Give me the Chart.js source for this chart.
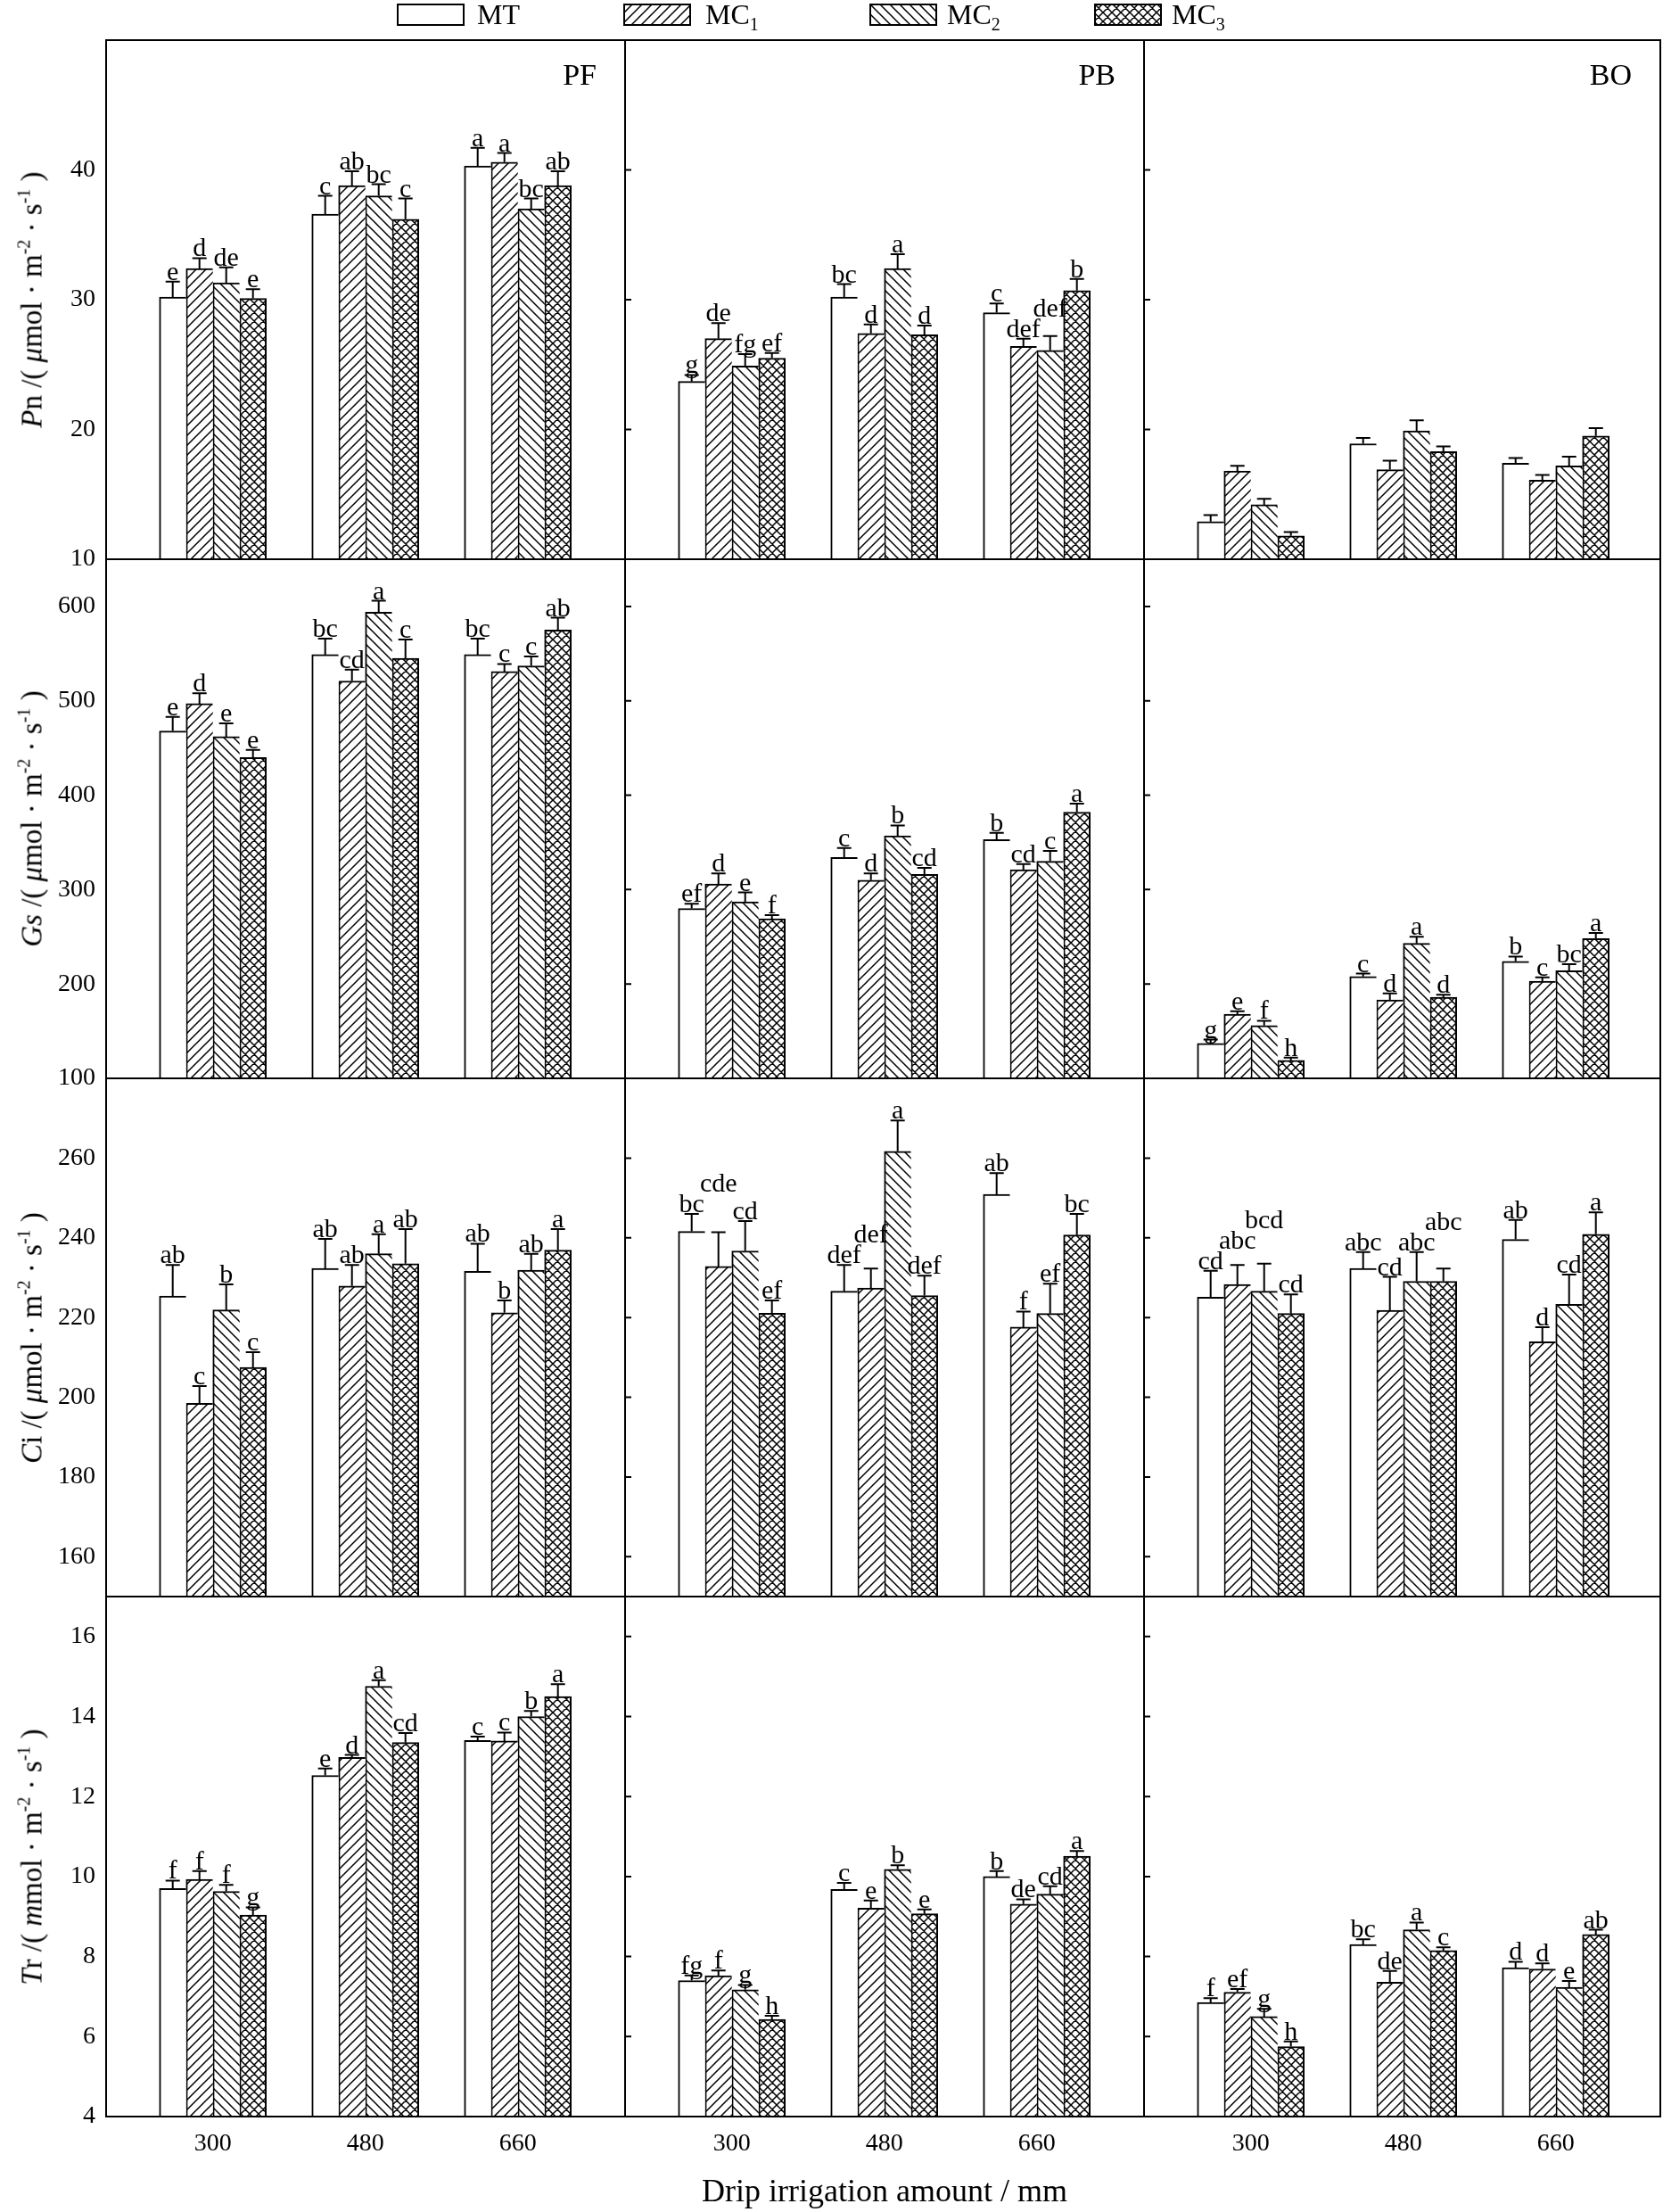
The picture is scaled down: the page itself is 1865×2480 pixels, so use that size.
<!DOCTYPE html>
<html>
<head>
<meta charset="utf-8">
<title>Pn, Gs, Ci, Tr under drip irrigation</title>
<script src="https://cdn.jsdelivr.net/npm/chart.js@4.4.1/dist/chart.umd.min.js"></script>
<style>
  html, body { margin: 0; padding: 0; background: #fff; }
  body { position: relative; width: 1865px; height: 2480px; overflow: hidden;
         font-family: "Liberation Serif", "Times New Roman", serif; color: #000; }
  canvas { position: absolute; }
  .ytitle { position: absolute; left: 36px; white-space: nowrap; font-size: 33px; line-height: 1;
            transform: translate(-50%, -50%) rotate(-90deg); }
  .ytitle sup { font-size: 20px; vertical-align: 13px; line-height: 0; }
  .lg-text { position: absolute; top: 0; font-size: 32px; line-height: 32px; white-space: nowrap; }
  .lg-text sub { font-size: 20px; vertical-align: -7px; line-height: 0; }
</style>
</head>
<body>
<script>
const categories = ["300", "480", "660"];
const seriesNames = ["MT", "MC1", "MC2", "MC3"];
const sites = ["PF", "PB", "BO"];

const pnTicks = [10, 20, 30, 40];
const gsTicks = [100, 200, 300, 400, 500, 600];
const ciTicks = [160, 180, 200, 220, 240, 260];
const trTicks = [4, 6, 8, 10, 12, 14, 16];

// one inner array per series (MT, MC1, MC2, MC3), one value per irrigation amount
const pnPF = [[30.2, 36.6, 40.3], [32.4, 38.8, 40.6], [31.3, 38.0, 37.0], [30.1, 36.2, 38.8]];
const pnPFErr = [[1.2, 1.4, 1.4], [0.8, 1.1, 0.7], [1.2, 0.9, 0.8], [0.7, 1.6, 1.1]];
const pnPFSig = [["e", "c", "a"], ["d", "ab", "a"], ["de", "bc", "bc"], ["e", "c", "ab"]];
const pnPB = [[23.7, 30.2, 29.0], [27.0, 27.4, 26.4], [24.9, 32.4, 26.1], [25.5, 27.3, 30.7]];
const pnPBErr = [[0.5, 1.0, 0.7], [1.2, 0.7, 0.6], [0.9, 1.1, 1.1], [0.4, 0.7, 0.9]];
const pnPBSig = [["g", "bc", "c"], ["de", "d", "def"], ["fg", "a", "def"], ["ef", "d", "b"]];
const pnBO = [[12.9, 18.9, 17.4], [16.8, 16.9, 16.1], [14.2, 19.9, 17.2], [11.8, 18.3, 19.5]];
const pnBOErr = [[0.5, 0.45, 0.4], [0.4, 0.7, 0.4], [0.45, 0.8, 0.7], [0.3, 0.4, 0.6]];
const pnBOSig = null;

const gsPF = [[468, 549, 549], [497, 521, 531], [462, 594, 537], [440, 545, 575]];
const gsPFErr = [[15, 17, 17], [11, 12, 8], [14, 12, 10], [8, 20, 13]];
const gsPFSig = [["e", "bc", "bc"], ["d", "cd", "c"], ["e", "a", "c"], ["e", "c", "ab"]];
const gsPB = [[280, 334, 353], [306, 310, 321], [287, 357, 330], [269, 316, 382]];
const gsPBErr = [[5, 10, 7], [11, 7, 6], [10, 11, 11], [4, 7, 9]];
const gsPBSig = [["ef", "c", "b"], ["d", "d", "cd"], ["e", "b", "c"], ["f", "cd", "a"]];
const gsBO = [[137, 208, 224], [168, 183, 203], [156, 243, 214], [119, 186, 248]];
const gsBOErr = [[4, 3, 5], [3, 7, 4], [5, 7, 7], [3, 2.5, 6]];
const gsBOSig = [["g", "c", "b"], ["e", "d", "c"], ["f", "a", "bc"], ["h", "d", "a"]];

const ciPF = [[225.4, 232.3, 231.6], [198.5, 227.9, 221.2], [221.9, 236.0, 231.9], [207.5, 233.5, 236.9]];
const ciPFErr = [[7.8, 7.4, 6.9], [4.3, 5.3, 3.1], [6.4, 4.9, 4.1], [3.8, 8.7, 5.3]];
const ciPFSig = [["ab", "ab", "ab"], ["c", "ab", "b"], ["b", "a", "ab"], ["c", "ab", "a"]];
const ciPB = [[241.6, 226.6, 250.9], [232.8, 227.4, 217.6], [236.7, 261.7, 221.0], [221.1, 225.5, 240.7]];
const ciPBErr = [[4.4, 6.6, 5.3], [8.6, 4.9, 3.9], [7.5, 7.7, 7.5], [3.2, 5.0, 5.3]];
const ciPBSig = [["bc", "def", "ab"], ["cde", "def", "f"], ["cd", "a", "ef"], ["ef", "def", "bc"]];
const ciBO = [[225.1, 232.3, 239.6], [228.3, 221.8, 213.9], [226.6, 229.1, 223.3], [221.0, 229.1, 240.9]];
const ciBOErr = [[6.6, 4.1, 4.9], [4.9, 8.4, 3.7], [6.9, 7.3, 7.5], [4.8, 3.2, 5.5]];
const ciBOSig = [["cd", "abc", "ab"], ["abc", "cd", "d"], ["bcd", "abc", "cd"], ["cd", "abc", "a"]];

const trPF = [[9.70, 12.53, 13.40], [9.93, 12.98, 13.39], [9.63, 14.76, 14.00], [9.04, 13.35, 14.50]];
const trPFErr = [[0.20, 0.17, 0.10], [0.21, 0.06, 0.21], [0.16, 0.15, 0.14], [0.19, 0.24, 0.31]];
const trPFSig = [["f", "e", "c"], ["f", "d", "c"], ["f", "a", "b"], ["g", "cd", "a"]];
const trPB = [[7.40, 9.68, 10.00], [7.52, 9.21, 9.31], [7.17, 10.18, 9.56], [6.43, 9.07, 10.51]];
const trPBErr = [[0.13, 0.16, 0.14], [0.13, 0.19, 0.12], [0.12, 0.10, 0.20], [0.09, 0.11, 0.13]];
const trPBSig = [["fg", "c", "b"], ["f", "e", "de"], ["g", "b", "cd"], ["h", "e", "a"]];
const trBO = [[6.85, 8.30, 7.72], [7.11, 7.36, 7.69], [6.50, 8.67, 7.23], [5.75, 8.15, 8.55]];
const trBOErr = [[0.11, 0.13, 0.15], [0.08, 0.28, 0.14], [0.19, 0.18, 0.16], [0.13, 0.08, 0.12]];
const trBOSig = [["f", "bc", "d"], ["ef", "de", "d"], ["g", "a", "e"], ["h", "c", "ab"]];

const rows = [
  { min: 10, max: 50, ticks: pnTicks, vals: [pnPF, pnPB, pnBO], errs: [pnPFErr, pnPBErr, pnBOErr], sigs: [pnPFSig, pnPBSig, pnBOSig],
    title: '<i>P</i>n /( <i>μ</i>mol · m<sup>-2</sup> · s<sup>-1</sup> )' },
  { min: 100, max: 650, ticks: gsTicks, vals: [gsPF, gsPB, gsBO], errs: [gsPFErr, gsPBErr, gsBOErr], sigs: [gsPFSig, gsPBSig, gsBOSig],
    title: '<i>Gs</i> /( <i>μ</i>mol · m<sup>-2</sup> · s<sup>-1</sup> )' },
  { min: 150, max: 280, ticks: ciTicks, vals: [ciPF, ciPB, ciBO], errs: [ciPFErr, ciPBErr, ciBOErr], sigs: [ciPFSig, ciPBSig, ciBOSig],
    title: '<i>C</i>i /( <i>μ</i>mol · m<sup>-2</sup> · s<sup>-1</sup> )' },
  { min: 4, max: 17, ticks: trTicks, vals: [trPF, trPB, trBO], errs: [trPFErr, trPBErr, trBOErr], sigs: [trPFSig, trPBSig, trBOSig],
    title: '<i>T</i>r /( <i>m</i>mol · m<sup>-2</sup> · s<sup>-1</sup> )' }
];

// page geometry (panel edges in px)
const X = [119, 701, 1283, 1862];
const Y = [45, 627, 1209, 1790, 2373];
const PAD = 40;
const GAP = 171;
const SIG_SIZE = 30;

Chart.defaults.font.family = "'Liberation Serif', 'Times New Roman', serif";
Chart.defaults.color = "#000";

function hatchTile(kind, s) {
  const c = document.createElement("canvas");
  c.width = s; c.height = s;
  const g = c.getContext("2d");
  g.fillStyle = "#fff";
  g.fillRect(0, 0, s, s);
  g.strokeStyle = "#000";
  g.lineWidth = 1.5;
  g.beginPath();
  for (const k of [-s, 0, s]) {
    if (kind === "fwd" || kind === "cross") { g.moveTo(-s, 2 * s + k); g.lineTo(2 * s, -s + k); }
    if (kind === "back" || kind === "cross") { g.moveTo(-s, -s + k); g.lineTo(2 * s, 2 * s + k); }
  }
  g.stroke();
  return c;
}
const tiles = [null, hatchTile("fwd", 11), hatchTile("back", 11), hatchTile("cross", 10)];
const helperCtx = document.createElement("canvas").getContext("2d");
const fills = tiles.map(t => t ? helperCtx.createPattern(t, "repeat") : "#fff");

function panelDecor(r, c) {
  return {
    id: "decor",
    afterDatasetsDraw(chart) {
      const { ctx, chartArea: a, scales: { y } } = chart;
      ctx.save();
      ctx.strokeStyle = "#000";
      ctx.fillStyle = "#000";
      ctx.lineWidth = 2;
      // upper error bars
      const tops = [];
      chart.data.datasets.forEach((ds, i) => {
        tops[i] = [];
        chart.getDatasetMeta(i).data.forEach((bar, j) => {
          const yt = y.getPixelForValue(ds.data[j].y + ds.err[j]);
          tops[i][j] = yt;
          ctx.beginPath();
          ctx.moveTo(bar.x, bar.y);
          ctx.lineTo(bar.x, yt);
          ctx.moveTo(bar.x - 8, yt);
          ctx.lineTo(bar.x + 8, yt);
          ctx.stroke();
        });
      });
      // significance letters, pushed up when they would collide
      const lh = SIG_SIZE * 0.7;
      ctx.font = SIG_SIZE + "px 'Liberation Serif'";
      ctx.textAlign = "center";
      ctx.textBaseline = "alphabetic";
      for (let j = 0; j < categories.length; j++) {
        const placed = [];
        chart.data.datasets.forEach((ds, i) => {
          const txt = ds.sig ? ds.sig[j] : "";
          if (!txt) return;
          const bx = chart.getDatasetMeta(i).data[j].x;
          const w = ctx.measureText(txt).width;
          let base = tops[i][j] - 2;
          let moved = true;
          while (moved) {
            moved = false;
            for (const p of placed) {
              if (bx - w / 2 < p.r && bx + w / 2 > p.l && base - lh < p.b && base > p.t) {
                base = p.t - 2;
                moved = true;
              }
            }
          }
          placed.push({ l: bx - w / 2, r: bx + w / 2, t: base - lh, b: base });
          ctx.fillText(txt, bx, base);
        });
      }
      // inward ticks on shared edges
      if (c > 0) {
        ctx.beginPath();
        rows[r].ticks.forEach(t => {
          const yy = y.getPixelForValue(t);
          ctx.moveTo(a.left, yy);
          ctx.lineTo(a.left + 7, yy);
        });
        ctx.stroke();
      }
      ctx.strokeRect(a.left, a.top, a.right - a.left, a.bottom - a.top);
      if (r === 0) {
        ctx.font = "34px 'Liberation Serif'";
        ctx.textAlign = "right";
        ctx.fillText(sites[c], a.right - 32, a.top + 50);
      }
      ctx.restore();
    }
  };
}

rows.forEach((row, r) => {
  sites.forEach((site, c) => {
    const left = c === 0 ? 0 : X[c] - PAD;
    const right = Math.min(1865, X[c + 1] + PAD);
    const top = Y[r] - PAD;
    const bottom = r === 3 ? 2480 : Y[r + 1] + PAD;
    const cv = document.createElement("canvas");
    cv.width = right - left;
    cv.height = bottom - top;
    cv.style.left = left + "px";
    cv.style.top = top + "px";
    document.body.appendChild(cv);

    new Chart(cv, {
      type: "bar",
      data: {
        datasets: seriesNames.map((name, s) => ({
          label: name,
          data: row.vals[c][s].map((v, j) => ({ x: j, y: v })),
          err: row.errs[c][s],
          sig: row.sigs[c] ? row.sigs[c][s] : null,
          backgroundColor: fills[s],
          borderColor: "#000",
          borderWidth: { top: 2, left: 2, right: s === 3 ? 2 : 0, bottom: 0 },
          borderSkipped: false,
          barThickness: 30
        }))
      },
      options: {
        responsive: false,
        animation: false,
        events: [],
        layout: { padding: { left: c === 0 ? 0 : PAD, right: right - X[c + 1], top: PAD, bottom: r === 3 ? 0 : PAD } },
        plugins: { legend: { display: false }, tooltip: { enabled: false } },
        scales: {
          x: {
            type: "linear",
            offset: false,
            min: -0.7,
            max: -0.7 + (X[c + 1] - X[c]) / GAP,
            display: r === 3,
            grid: { display: false, drawTicks: false },
            border: { display: false },
            afterBuildTicks: sc => { sc.ticks = categories.map((_, i) => ({ value: i })); },
            afterFit: sc => {
              if (r !== 3) return;
              sc.height = 2480 - Y[4];
              sc.paddingLeft = 0;
              sc.paddingRight = 0;
            },
            ticks: { autoSkip: false, maxRotation: 0, padding: 14, font: { size: 28 }, callback: v => categories[v] },
            title: { display: r === 3 && c === 1, text: "Drip irrigation amount / mm", font: { size: 36 }, padding: 0 }
          },
          y: {
            min: row.min,
            max: row.max,
            display: c === 0,
            grid: { display: false, drawTicks: false },
            border: { display: false },
            afterBuildTicks: sc => { sc.ticks = row.ticks.map(v => ({ value: v })); },
            afterFit: sc => {
              if (c !== 0) return;
              sc.width = X[0];
              sc.paddingTop = 0;
              sc.paddingBottom = 0;
            },
            ticks: { padding: 12, font: { size: 28 } }
          }
        }
      },
      plugins: [panelDecor(r, c)]
    });
  });

  const t = document.createElement("div");
  t.className = "ytitle";
  t.style.top = ((Y[r] + Y[r + 1]) / 2) + "px";
  t.innerHTML = row.title;
  document.body.appendChild(t);
});

// legend
const legendBoxX = [445, 699, 975, 1227];
const legendTextX = [535, 791, 1062, 1314];
const legendLabels = ["MT", "MC<sub>1</sub>", "MC<sub>2</sub>", "MC<sub>3</sub>"];
legendLabels.forEach((lab, s) => {
  const sw = document.createElement("canvas");
  sw.width = 76; sw.height = 25;
  sw.style.left = legendBoxX[s] + "px";
  sw.style.top = "4px";
  const g = sw.getContext("2d");
  g.fillStyle = fills[s];
  g.fillRect(0, 0, 76, 25);
  g.strokeStyle = "#000";
  g.lineWidth = 2;
  g.strokeRect(1, 1, 74, 23);
  document.body.appendChild(sw);
  const tx = document.createElement("div");
  tx.className = "lg-text";
  tx.style.left = legendTextX[s] + "px";
  tx.innerHTML = lab;
  document.body.appendChild(tx);
});
</script>
</body>
</html>
